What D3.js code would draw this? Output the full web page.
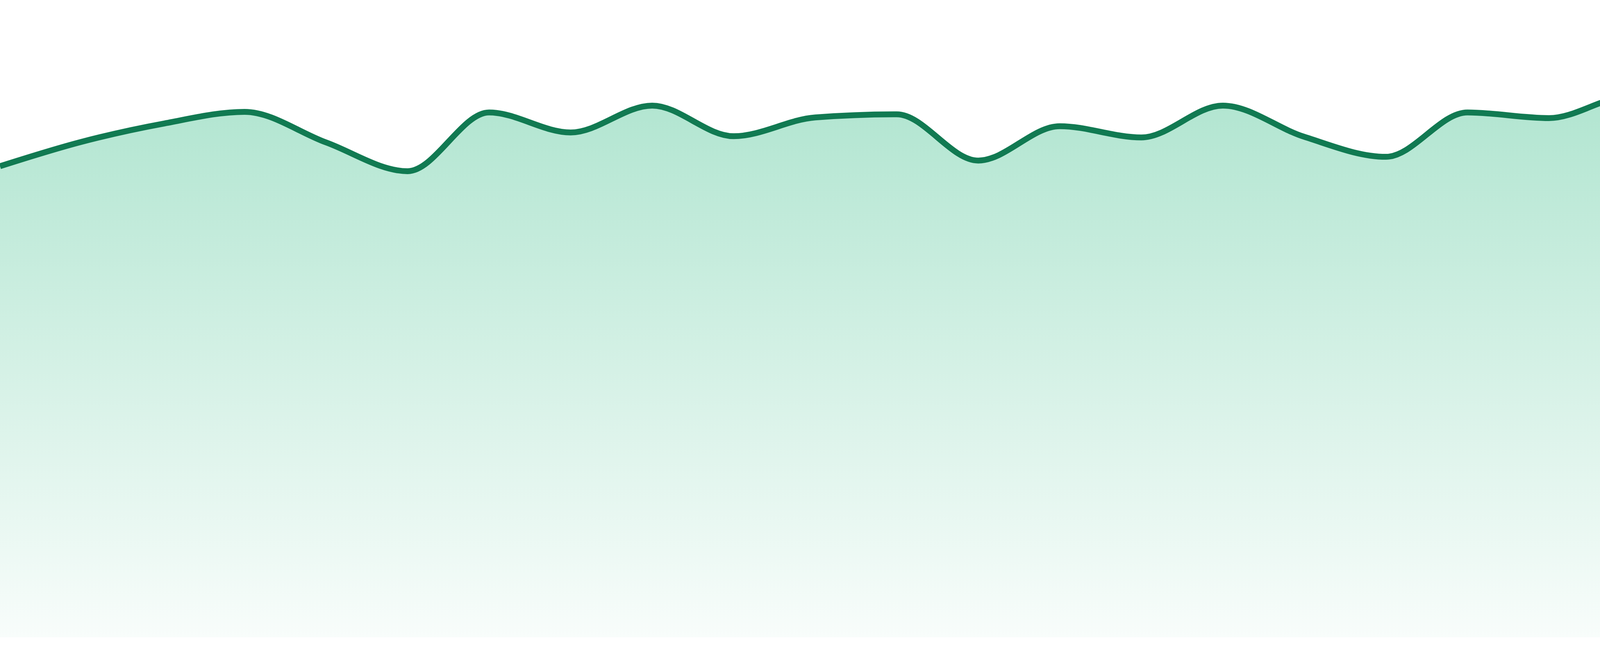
<!DOCTYPE html>
<html>
<head>
<meta charset="utf-8">
<script src="https://cdn.jsdelivr.net/npm/d3@7"></script>
<style>
  html, body { margin: 0; padding: 0; background: #ffffff; }
  svg { display: block; }
</style>
</head>
<body>
<svg id="area-chart"></svg>
<script>
// Define dataset (one point per period, no axes shown)
const periods = d3.range(24);
const values = [
  75.4, 79.3, 82.2, 84.1, 79.2, 74.6, 84.0, 80.8, 85.1, 80.2, 83.2, 83.7,
  76.3, 81.8, 80.0, 85.1, 80.1, 76.9, 84.0, 83.1, 86.6, 83.1, 89.3, 84.8
];
const data = periods.map((p, i) => ({ period: p, value: values[i] }));

// Set dimensions
const width = 4800;
const height = 1680;
const bottom = 1632;

// Define scales
const x = d3.scaleLinear()
  .domain(d3.extent(periods))
  .range([0, width]);

const y = d3.scaleLinear()
  .domain([0, 100])
  .range([bottom, 32]);

// Define SVG
const svg = d3.select("#area-chart")
  .attr("width", width)
  .attr("height", height);

// Gradient for the fill
const grad = svg.append("defs")
  .append("linearGradient")
  .attr("id", "fillGrad")
  .attr("gradientUnits", "userSpaceOnUse")
  .attr("x1", 0).attr("x2", 0)
  .attr("y1", y(d3.max(values)))
  .attr("y2", bottom);

grad.append("stop")
  .attr("offset", "0%")
  .attr("stop-color", "#1ab376")
  .attr("stop-opacity", 0.35);

grad.append("stop")
  .attr("offset", "100%")
  .attr("stop-color", "#1ab376")
  .attr("stop-opacity", 0.03);

// Area + line generators
const area = d3.area()
  .x(d => x(d.period))
  .y0(bottom)
  .y1(d => y(d.value))
  .curve(d3.curveMonotoneX);

const line = d3.line()
  .x(d => x(d.period))
  .y(d => y(d.value))
  .curve(d3.curveMonotoneX);

svg.append("path")
  .datum(data)
  .attr("d", area)
  .attr("fill", "url(#fillGrad)");

svg.append("path")
  .datum(data)
  .attr("d", line)
  .attr("fill", "none")
  .attr("stroke", "#117a52")
  .attr("stroke-width", 15);
</script>
</body>
</html>
